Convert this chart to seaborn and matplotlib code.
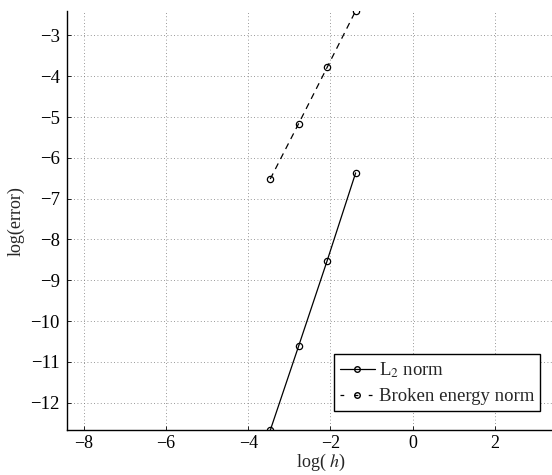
import matplotlib
matplotlib.use("Agg")
import matplotlib.pyplot as plt
from matplotlib.lines import Line2D
import seaborn as sns
import pandas as pd

# data (h = 1/4, 1/8, 1/16, 1/32)
log_h = [-3.466, -2.773, -2.079, -1.386]
l2_err = [-12.68, -10.61, -8.52, -6.37]
energy_err = [-6.52, -5.16, -3.78, -2.40]
series_names = ["L$_2$ norm", "Broken energy norm"]

df = pd.DataFrame({
    "log_h": log_h * 2,
    "err": l2_err + energy_err,
    "norm": [series_names[0]] * 4 + [series_names[1]] * 4,
})

sns.set_theme(style="ticks")
plt.rcParams["font.family"] = ["Liberation Serif", "DejaVu Serif"]
plt.rcParams["mathtext.fontset"] = "stix"
plt.rcParams["axes.unicode_minus"] = True

fig = plt.figure(figsize=(5.52, 4.75), dpi=100)
ax = fig.add_axes([0.121, 0.094, 0.921, 0.883])

sns.lineplot(data=df, x="log_h", y="err", style="norm",
             dashes={series_names[0]: "", series_names[1]: (5, 4)},
             markers={series_names[0]: "o", series_names[1]: "o"},
             color="black", linewidth=0.9, markersize=4.5,
             markerfacecolor="none", markeredgecolor="black",
             markeredgewidth=0.9, ax=ax, legend=False)

ax.set_xlim(-8.42, 3.96)
ax.set_ylim(-12.68, -2.40)
ax.set_xticks([-8, -6, -4, -2, 0, 2])
ax.set_yticks(range(-12, -2))
ax.grid(True, linestyle=(0, (1, 3)), color="#777777", linewidth=0.6)
for s in ["top", "right"]:
    ax.spines[s].set_visible(False)
for s in ["left", "bottom"]:
    ax.spines[s].set_color("black")
    ax.spines[s].set_linewidth(1.0)
ax.tick_params(direction="in", length=3, width=0.6, labelsize=13.5,
               colors="black", pad=5)
ax.tick_params(axis="x", pad=3, labelsize=13)

ax.set_xlabel("log( $h$)", fontsize=13, labelpad=0)
ax.set_ylabel("log(error)", fontsize=13, labelpad=4)

handles = [
    Line2D([], [], color="black", linewidth=0.9, marker="o", markersize=4,
           markerfacecolor="none"),
    Line2D([], [], color="black", linewidth=0.9, linestyle=(0, (3, 8.3)),
           marker="o", markersize=4, markerfacecolor="none"),
]
leg = ax.legend(handles, series_names, loc="lower right",
                fontsize=13.5, frameon=True,
                fancybox=False, edgecolor="black", framealpha=1,
                handlelength=1.9, handletextpad=0.2, borderpad=0.3,
                labelspacing=0.45, borderaxespad=0)
leg.get_frame().set_linewidth(1.0)
# place legend box where the reference has it (pixels 338..540, 351..411)
leg.set_bbox_to_anchor((540 / 552, (475 - 411) / 475), transform=fig.transFigure)

fig.savefig("out.png", dpi=100)
